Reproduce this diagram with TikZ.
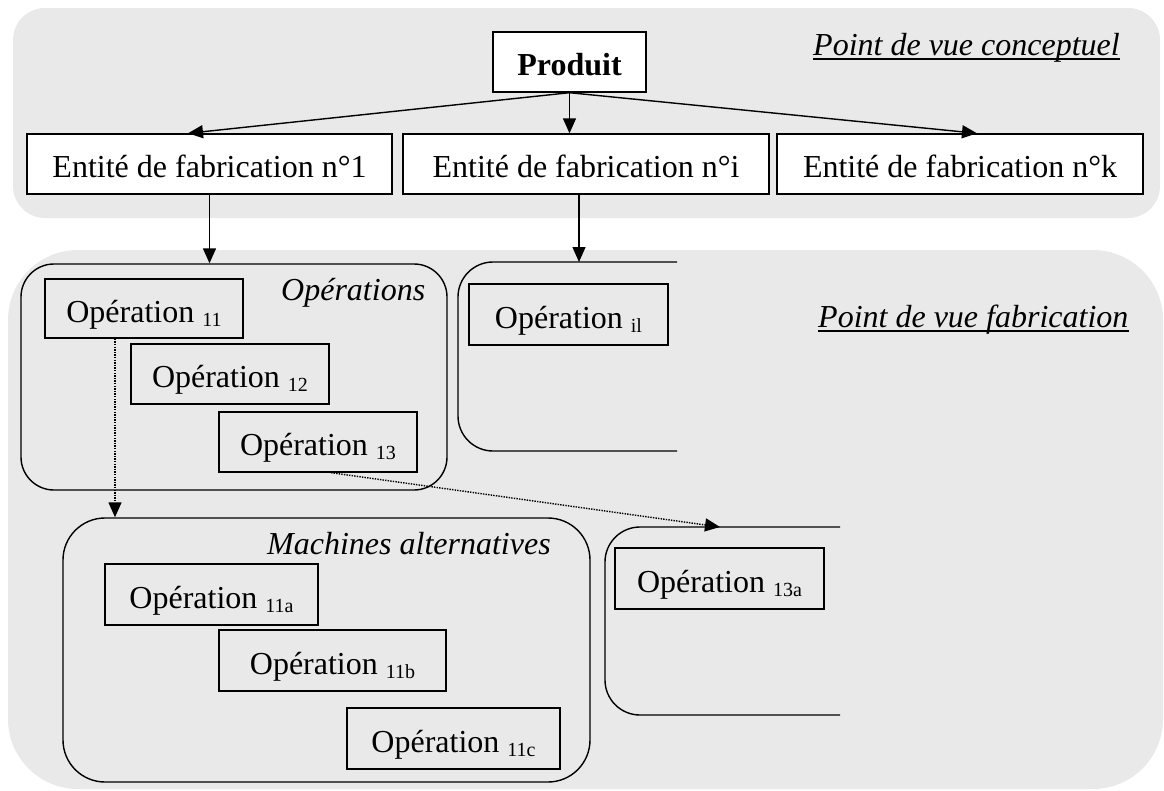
\documentclass[tikz,border=0pt]{standalone}
\usepackage{fontspec}
\setmainfont{Liberation Serif}
\usetikzlibrary{arrows.meta,calc}
\definecolor{panel}{HTML}{E9E9E9}
\newcommand{\sbs}[1]{\raisebox{-4pt}{\fontsize{20}{20}\selectfont #1}}
\begin{document}
\begin{tikzpicture}[x=1pt,y=-1pt,
  ebox/.style={draw, line width=1.4pt, fill=white, inner sep=0pt, text height=27pt, text depth=0pt, font=\fontsize{32}{38}\selectfont},
  obox/.style={ebox, fill=none},
  cont/.style={draw, line width=1.4pt, inner sep=0pt},
  openc/.style={line width=1.4pt, rounded corners=35},
  arr/.style={line width=1.4pt, -{Triangle[length=15pt,width=13pt]}},
  dotarr/.style={arr, dash pattern=on 1.4pt off 1.2pt},
  lbl/.style={inner sep=0pt, font=\fontsize{32}{38}\selectfont\itshape, anchor=base west},
  uline/.style={line width=1.5pt}
]
\useasboundingbox (0,0) rectangle (1164,790);
% panels
\fill[panel, rounded corners=32] (13,8) rectangle (1160,218);
\fill[panel, rounded corners=70] (8,250) rectangle (1163,789);

% top level
\node[ebox, minimum width=153, minimum height=60] (p) at (569.5,62) {\textbf{Produit}};
\node[ebox, minimum width=365, minimum height=60] (e1) at (209.5,164) {Entité de fabrication n°1};
\node[ebox, minimum width=366, minimum height=60] (ei) at (586,164) {Entité de fabrication n°i};
\node[ebox, minimum width=366, minimum height=60] (ek) at (960,164) {Entité de fabrication n°k};

\node[lbl] (pvc) at (813,55) {Point de vue conceptuel};
\draw[uline] ([yshift=-4pt]pvc.base west) -- ([yshift=-4pt]pvc.base east);
\node[lbl] (pvf) at (818,327) {Point de vue fabrication};
\draw[uline] ([yshift=-4pt]pvf.base west) -- ([yshift=-4pt]pvf.base east);

\draw[arr] (p.south) -- ($(e1.north)+(-21.5,0)$);
\draw[arr] (p.south) -- (ei.north -| p.south);
\draw[arr] (p.south) -- ($(ek.north)+(17,0)$);

% operations container
\node[cont, rounded corners=33, minimum width=426, minimum height=226] (opc) at (234,377) {};
\node[lbl] (lops) at (281,300) {Opérations};
\node[obox, minimum width=198, minimum height=59] (op11) at (144,308.5) {Opération \sbs{11}};
\node[obox, minimum width=198, minimum height=60] (op12) at (230,374) {Opération \sbs{12}};
\node[obox, minimum width=198, minimum height=60] (op13) at (318,442) {Opération \sbs{13}};
\draw[arr] (e1.south) -- (e1.south |- opc.north);

% open container for entity i
\coordinate (oi) at (579,262);
\draw[openc] (677,262) -- (458,262) -- (458,451) -- (677,451);
\node[obox, minimum width=199, minimum height=61] (opi1) at (568.5,314.5) {Opération \sbs{il}};
\draw[arr] (ei.south -| oi) -- (oi);

% machines container
\node[cont, rounded corners=42, minimum width=527, minimum height=264] (mc) at (326.5,650) {};
\node[lbl] (lma) at (267,554) {Machines alternatives};
\node[obox, minimum width=213, minimum height=61] (op11a) at (211.5,594.5) {Opération \sbs{11a}};
\node[obox, minimum width=227, minimum height=61] (op11b) at (332.5,660.5) {Opération \sbs{11b}};
\node[obox, minimum width=213, minimum height=61] (op11c) at (453.5,738.5) {Opération \sbs{11c}};

\coordinate (d1) at ($(op11.south)+(-29,0)$);
\draw[dotarr] (d1) -- (d1 |- mc.north);

% open container for 13a
\coordinate (o13) at (720,527);
\draw[openc] (840,527) -- (605,527) -- (605,715) -- (840,715);
\node[obox, minimum width=209, minimum height=61] (op13a) at (719.5,578.5) {Opération \sbs{13a}};
\draw[dotarr] ($(op13.south)+(13,0)$) -- (o13);
\end{tikzpicture}
\end{document}
